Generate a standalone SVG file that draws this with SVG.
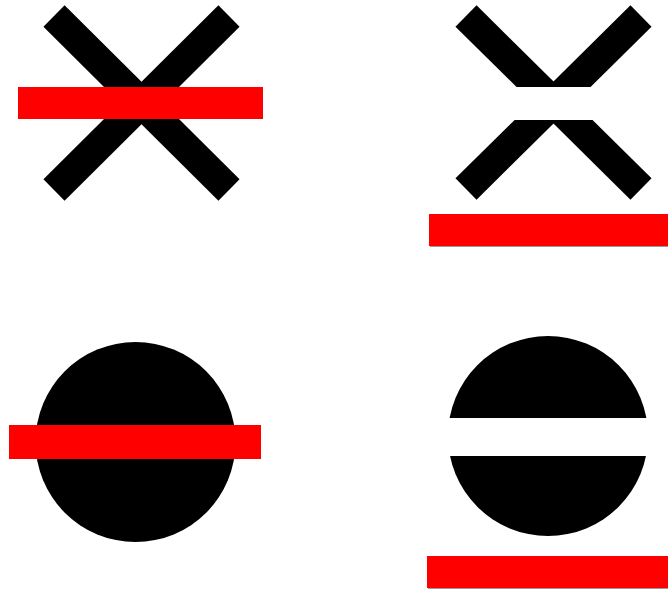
<svg xmlns="http://www.w3.org/2000/svg" width="668" height="590" viewBox="0 0 668 590">
  <style>
    .arm { stroke: #000; stroke-width: 30; stroke-linecap: butt; fill: none; }
    .bar { fill: #ff0000; }
    .shadow { fill: #9a9a9a; }
  </style>
  <defs>
    <mask id="gapX" maskUnits="userSpaceOnUse" x="0" y="0" width="668" height="590">
      <rect x="0" y="0" width="668" height="590" fill="#fff"/>
      <rect x="400" y="87" width="268" height="33" fill="#000"/>
    </mask>
    <mask id="gapO" maskUnits="userSpaceOnUse" x="0" y="0" width="668" height="590">
      <rect x="0" y="0" width="668" height="590" fill="#fff"/>
      <rect x="400" y="418" width="268" height="38" fill="#000"/>
    </mask>
  </defs>
  <rect width="668" height="590" fill="#fff"/>

  <g id="x-crossed">
    <line class="arm" x1="54" y1="16" x2="229" y2="190"/>
    <line class="arm" x1="229" y1="16" x2="54" y2="190"/>
    <rect class="bar" x="18" y="87" width="245" height="32"/>
  </g>

  <g id="x-masked">
    <g mask="url(#gapX)">
      <line class="arm" x1="466" y1="16" x2="641" y2="189"/>
      <line class="arm" x1="641" y1="16" x2="466" y2="189"/>
    </g>
    <rect class="shadow" x="430" y="246" width="240" height="1"/>
    <rect class="bar" x="429" y="214" width="245" height="32"/>
  </g>

  <g id="circle-crossed">
    <circle cx="135.5" cy="442" r="100" fill="#000"/>
    <rect class="bar" x="9" y="425" width="252" height="34"/>
  </g>

  <g id="circle-masked">
    <circle cx="548" cy="436" r="100" fill="#000" mask="url(#gapO)"/>
    <rect class="shadow" x="428" y="588" width="242" height="1"/>
    <rect class="bar" x="427" y="556" width="245" height="32"/>
  </g>
</svg>
